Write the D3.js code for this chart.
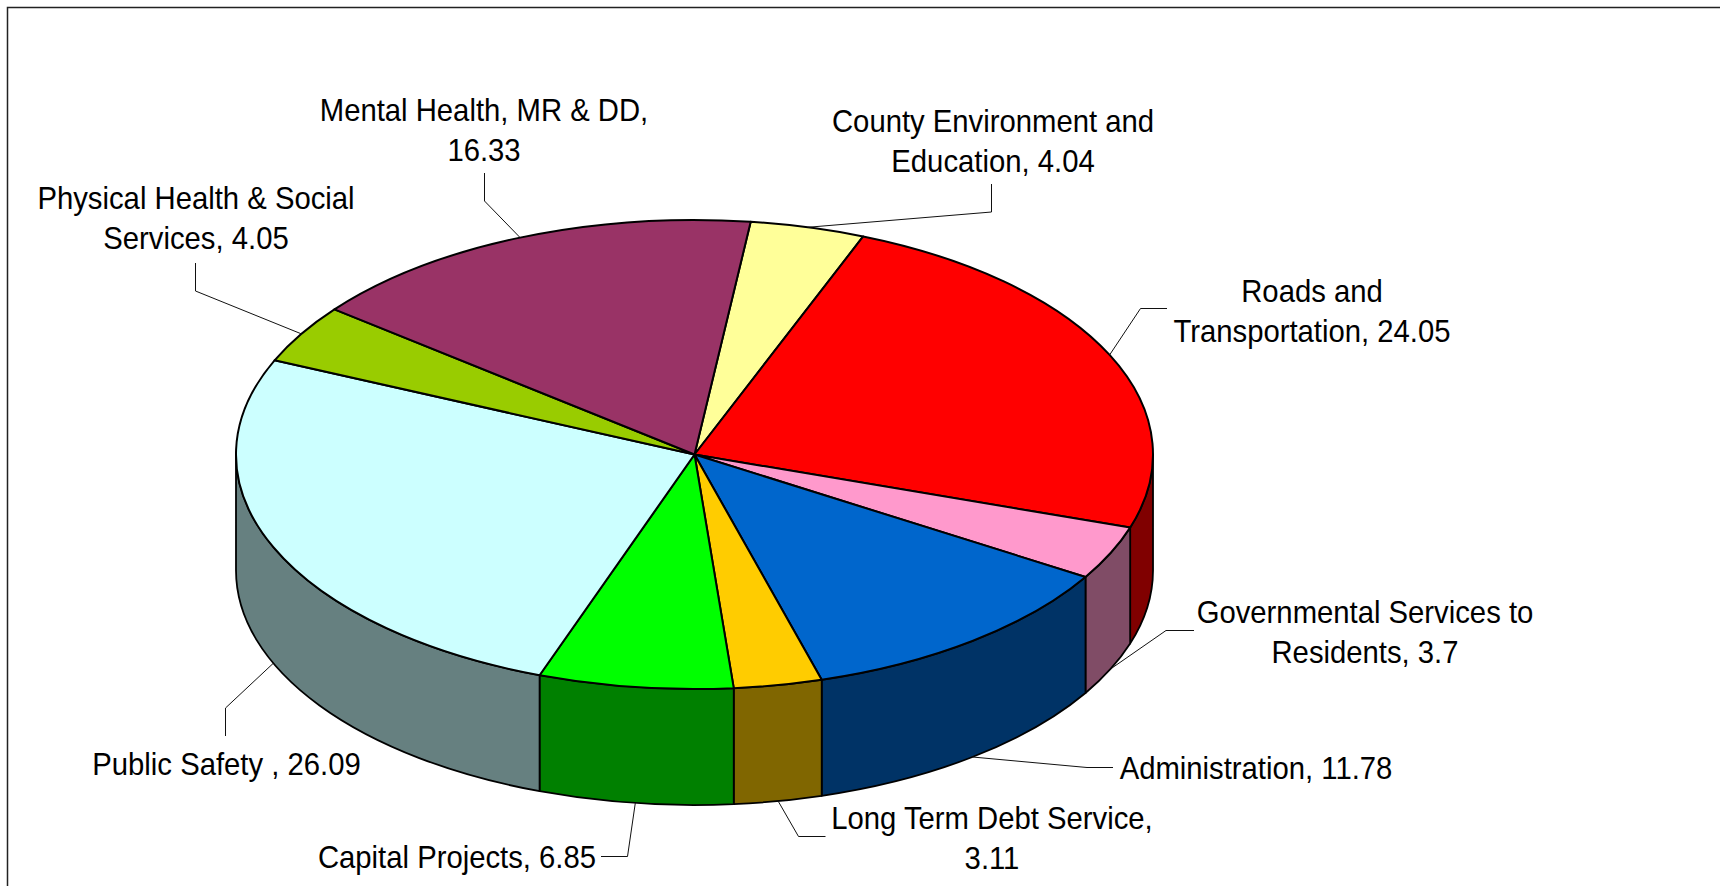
<!DOCTYPE html>
<html>
<head>
<meta charset="utf-8">
<script src="https://cdn.jsdelivr.net/npm/d3@7"></script>
<style>
  html, body { margin: 0; padding: 0; background: #fff; overflow: hidden; }
  svg { display: block; }
  text { font-family: "Liberation Sans", Arial, sans-serif; font-size: 30.5px; fill: #000; }
</style>
</head>
<body>
<div id="chart"></div>
<script>
// values, clockwise from the slice just right of 12 o'clock
const values = [4.04, 24.05, 3.7, 11.78, 3.11, 6.85, 26.09, 4.05, 16.33];
const topColors = ["#FFFF99", "#FF0000", "#FF99CC", "#0066CC", "#FFCC00", "#00FF00", "#CCFFFF", "#99CC00", "#993366"];
const sideColors = ["#808050", "#800000", "#804C66", "#003366", "#806600", "#008000", "#668080", "#4C6600", "#4C1933"];

// category labels, wrapped as in the picture
const labelLines = [
  ["County Environment and", "Education, 4.04"],
  ["Roads and", "Transportation, 24.05"],
  ["Governmental Services to", "Residents, 3.7"],
  ["Administration, 11.78"],
  ["Long Term Debt Service,", "3.11"],
  ["Capital Projects, 6.85"],
  ["Public Safety , 26.09"],
  ["Physical Health & Social", "Services, 4.05"],
  ["Mental Health, MR & DD,", "16.33"]
];

// where each label sits, and the two outer points of its leader line
const labelLayout = [
  { x: 993, y: 132, leader: [[991.5, 184], [991.5, 212]] },
  { x: 1312, y: 302, leader: [[1167, 308.5], [1140.5, 308.5]] },
  { x: 1365, y: 623, leader: [[1194, 630.5], [1166, 630.5]] },
  { x: 1256, y: 779, leader: [[1113, 767.5], [1087, 767.5]] },
  { x: 992, y: 829, leader: [[825.5, 836.5], [798.5, 836.5]] },
  { x: 457, y: 868, leader: [[601, 856.5], [627.5, 856.5]] },
  { x: 226.5, y: 775, leader: [[225.5, 736], [225.5, 708]] },
  { x: 196, y: 209, leader: [[195.5, 263], [195.5, 291]] },
  { x: 484, y: 121, leader: [[484.5, 173], [484.5, 201]] }
];

const svgWidth = 1720;
const svgHeight = 886;
const cx = 694.5;
const cy = 454.5;
const rx = 458.5;
const ry = 234.5;
const depth = 116;
const lineHeight = 40;
const textStretch = 0.96;

const svg = d3.select("#chart")
  .append("svg")
  .attr("width", svgWidth)
  .attr("height", svgHeight);

// chart frame runs off the right and bottom of the page
svg.append("path")
  .attr("d", "M7.5," + svgHeight + "V7.5H" + svgWidth)
  .attr("fill", "none")
  .attr("stroke", "#222")
  .attr("stroke-width", 1.5);

const startAngle = 7.04 * Math.PI / 180;
const pie = d3.pie()
  .sort(null)
  .startAngle(startAngle)
  .endAngle(startAngle + 2 * Math.PI);

const slices = pie(values);

function pointAt(angle, drop) {
  return [cx + rx * Math.sin(angle), cy - ry * Math.cos(angle) + (drop || 0)];
}

// front wall of one slice, only the part between 3 and 9 o'clock shows
function sidePath(d) {
  const a0 = Math.max(d.startAngle, Math.PI / 2);
  const a1 = Math.min(d.endAngle, 3 * Math.PI / 2);
  if (a1 <= a0) return null;
  const p0 = pointAt(a0);
  const p1 = pointAt(a1);
  return "M" + p0 + "A" + rx + "," + ry + " 0 0 1 " + p1 +
    "V" + (p1[1] + depth) +
    "A" + rx + "," + ry + " 0 0 0 " + p0[0] + "," + (p0[1] + depth) + "Z";
}

svg.append("g")
  .selectAll("path")
  .data(slices.filter(function(d) { return sidePath(d) !== null; }))
  .enter()
  .append("path")
  .attr("d", sidePath)
  .attr("fill", function(d) { return sideColors[d.index]; })
  .attr("stroke", "#000")
  .attr("stroke-width", 1.8)
  .attr("stroke-linejoin", "round");

const arc = d3.arc()
  .innerRadius(0)
  .outerRadius(rx);

svg.append("g")
  .attr("transform", "translate(" + cx + "," + cy + ") scale(1," + (ry / rx) + ")")
  .selectAll("path")
  .data(slices)
  .enter()
  .append("path")
  .attr("d", arc)
  .attr("fill", function(d) { return topColors[d.index]; })
  .attr("stroke", "#000")
  .attr("stroke-width", 2)
  .attr("stroke-linejoin", "round")
  .attr("vector-effect", "non-scaling-stroke");

// leader ends on the rim at the slice's middle, lower rim for the front slices
const line = d3.line();
svg.append("g")
  .selectAll("path")
  .data(slices)
  .enter()
  .append("path")
  .attr("d", function(d) {
    const mid = (d.startAngle + d.endAngle) / 2;
    const front = mid > Math.PI / 2 && mid < 3 * Math.PI / 2;
    return line(labelLayout[d.index].leader.concat([pointAt(mid, front ? depth : 0)]));
  })
  .attr("fill", "none")
  .attr("stroke", "#111")
  .attr("stroke-width", 1);

const labels = svg.append("g")
  .selectAll("text")
  .data(slices)
  .enter()
  .append("text")
  .attr("transform", function(d) {
    const l = labelLayout[d.index];
    return "translate(" + l.x + "," + l.y + ") scale(" + textStretch + ",1)";
  })
  .attr("text-anchor", "middle");

labels.selectAll("tspan")
  .data(function(d) { return labelLines[d.index]; })
  .enter()
  .append("tspan")
  .attr("x", 0)
  .attr("y", function(d, i) { return i * lineHeight; })
  .text(function(d) { return d; });
</script>
</body>
</html>
